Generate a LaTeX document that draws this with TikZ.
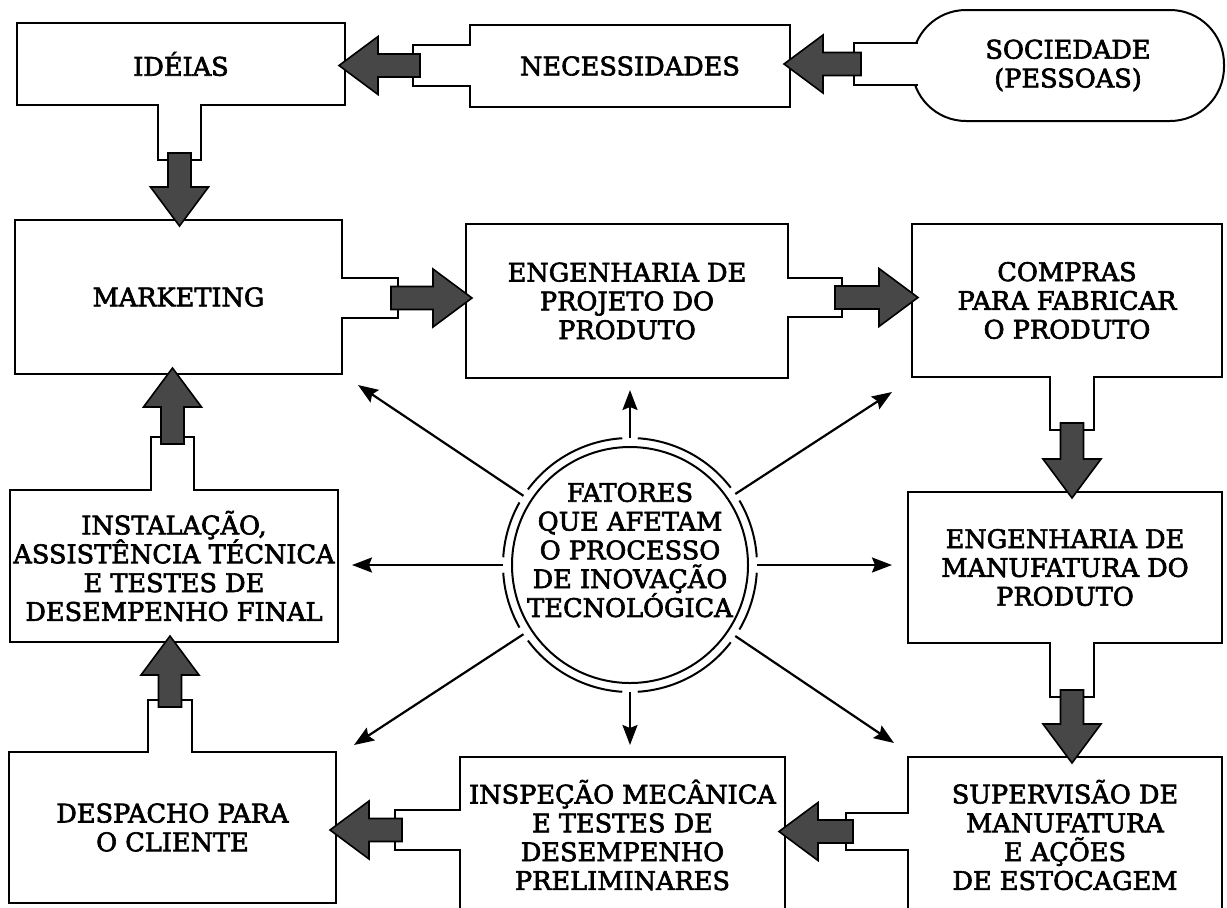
\documentclass[tikz,border=0pt]{standalone}
\usepackage{fontspec}
\setmainfont{DejaVu Serif}[FakeBold=2.5]
\usetikzlibrary{calc,arrows.meta}

% thick shaded arrow from a tab to the next box
\newcommand{\blockarrow}[2]{%
  \coordinate (ba-s) at (#1);
  \coordinate (ba-e) at (#2);
  \coordinate (ba-a) at ($(ba-s)!-3.5pt!(ba-e)$);
  \coordinate (ba-b) at ($(ba-e)!-3.5pt!(ba-s)$);
  \coordinate (ba-c) at ($(ba-b)!19.5pt!(ba-a)$);
  \filldraw[bigarrow] ($(ba-a)!5.75pt!90:(ba-b)$) -- ($(ba-c)!5.75pt!-90:(ba-a)$)
    -- ($(ba-c)!14.5pt!-90:(ba-a)$) -- (ba-b) -- ($(ba-c)!14.5pt!90:(ba-a)$)
    -- ($(ba-c)!5.75pt!90:(ba-a)$) -- ($(ba-a)!5.75pt!-90:(ba-b)$) -- cycle;}

\begin{document}
\begin{tikzpicture}[x=0.5pt, y=-0.5pt,
    every node/.style={font=\fontsize{12.8}{14.4}\selectfont},
    box/.style={draw, line width=1pt, fill=white, align=center, inner sep=0pt},
    tab/.style={fill=white, inner sep=0pt, outer sep=0pt},
    tabline/.style={line width=1pt},
    bigarrow/.style={fill=black!72, draw=black, line width=0.8pt, line join=miter},
    ring/.style={line width=1pt},
    spoke/.style={line width=1.1pt, -{Stealth[length=10pt,width=7.5pt,inset=1.5pt]}}]
    \useasboundingbox (0,0) rectangle (1227,907);
    \clip (0,0) rectangle (1227,907);
    \fill[white] (0,0) rectangle (1227,907);

    % Boxes
    \node[box, minimum width=164pt, minimum height=41pt] (ideias) at (181,64) {IDÉIAS};
    \node[box, minimum width=160pt, minimum height=41pt] (nec) at (630,66) {NECESSIDADES};
    \node[box, rounded corners=27pt, minimum width=156pt, minimum height=55.5pt] (soc) at (1068,65.5) {SOCIEDADE\\(PESSOAS)};
    \node[box, minimum width=163.5pt, minimum height=77pt] (mkt) at (178.5,297) {MARKETING};
    \node[box, minimum width=161pt, minimum height=77pt] (proj) at (627,301) {ENGENHARIA DE\\PROJETO DO\\PRODUTO};
    \node[box, minimum width=155pt, minimum height=76.5pt] (comp) at (1067,300.5) {COMPRAS\\PARA FABRICAR\\O PRODUTO};
    \node[box, minimum width=164pt, minimum height=76pt] (inst) at (174,566) {INSTALAÇÃO,\\ASSISTÊNCIA TÉCNICA\\E TESTES DE\\DESEMPENHO FINAL};
    \node[box, minimum width=157pt, minimum height=75.5pt] (man) at (1065,567.5) {ENGENHARIA DE\\MANUFATURA DO\\PRODUTO};
    \node[box, minimum width=163.5pt, minimum height=75.5pt] (desp) at (172.5,827.5) {DESPACHO PARA\\O CLIENTE};
    \node[box, minimum width=162.5pt, minimum height=78pt] (insp) at (622.5,835) {INSPEÇÃO MECÂNICA\\E TESTES DE\\DESEMPENHO\\PRELIMINARES};
    \node[box, minimum width=157pt, minimum height=78pt] (sup) at (1065,835) {SUPERVISÃO DE\\MANUFATURA\\E AÇÕES\\DE ESTOCAGEM};

    % Tabs
    \node[tab, minimum width=21.5pt, minimum height=28pt] (ideias-tab) at (179.5,132) {};
    \draw[tabline] (ideias-tab.north west) |- (ideias-tab.south east) -- (ideias-tab.north east);
    \node[tab, minimum width=29pt, minimum height=20.5pt] (nec-tab) at (442,65.5) {};
    \draw[tabline] (nec-tab.north east) -| (nec-tab.south west) -- (nec-tab.south east);
    \node[tab, minimum width=32pt, minimum height=21pt] (soc-tab) at (886,64) {};
    \draw[tabline] (soc-tab.north east) -| (soc-tab.south west) -- (soc-tab.south east);
    \node[tab, minimum width=28.5pt, minimum height=20pt] (mkt-tab) at (369.5,298) {};
    \draw[tabline] (mkt-tab.north west) -| (mkt-tab.south east) -- (mkt-tab.south west);
    \node[tab, minimum width=27.5pt, minimum height=19.5pt] (proj-tab) at (814.5,297.5) {};
    \draw[tabline] (proj-tab.north west) -| (proj-tab.south east) -- (proj-tab.south west);
    \node[tab, minimum width=22pt, minimum height=27pt] (comp-tab) at (1072,403) {};
    \draw[tabline] (comp-tab.north west) |- (comp-tab.south east) -- (comp-tab.north east);
    \node[tab, minimum width=22pt, minimum height=27.5pt] (man-tab) at (1072,669.5) {};
    \draw[tabline] (man-tab.north west) |- (man-tab.south east) -- (man-tab.north east);
    \node[tab, minimum width=31.5pt, minimum height=18.5pt] (sup-tab) at (877.5,831.5) {};
    \draw[tabline] (sup-tab.north east) -| (sup-tab.south west) -- (sup-tab.south east);
    \node[tab, minimum width=33pt, minimum height=20pt] (insp-tab) at (428,830) {};
    \draw[tabline] (insp-tab.north east) -| (insp-tab.south west) -- (insp-tab.south east);
    \node[tab, minimum width=22pt, minimum height=26.5pt] (desp-tab) at (170,726.5) {};
    \draw[tabline] (desp-tab.south west) |- (desp-tab.north east) -- (desp-tab.south east);
    \node[tab, minimum width=21.5pt, minimum height=27pt] (inst-tab) at (172.5,464) {};
    \draw[tabline] (inst-tab.south west) |- (inst-tab.north east) -- (inst-tab.south east);

    % Block arrows
    \blockarrow{soc-tab.west}{soc-tab.west -| nec.east}
    \blockarrow{nec-tab.west}{nec-tab.west -| ideias.east}
    \blockarrow{ideias-tab.south}{ideias-tab.south |- mkt.north}
    \blockarrow{mkt-tab.east}{mkt-tab.east -| proj.west}
    \blockarrow{proj-tab.east}{proj-tab.east -| comp.west}
    \blockarrow{comp-tab.south}{comp-tab.south |- man.north}
    \blockarrow{man-tab.south}{man-tab.south |- sup.north}
    \blockarrow{sup-tab.west}{sup-tab.west -| insp.east}
    \blockarrow{insp-tab.west}{insp-tab.west -| desp.east}
    \blockarrow{desp-tab.north}{desp-tab.north |- inst.south}
    \blockarrow{inst-tab.north}{inst-tab.north |- mkt.south}

    % Central circle
    \node[circle, draw, line width=1pt, minimum size=118pt, inner sep=0pt, outer sep=4.5pt] (fat) at (630,565) {};
    \node[align=center, inner sep=0pt] (fat-text) at (630,550) {FATORES\\QUE AFETAM\\O PROCESSO\\DE INOVAÇÃO\\TECNOLÓGICA};
    \foreach \a/\b in {0/34, 34/90, 90/147, 147/180, 180/213, 213/270, 270/326, 326/360}
        \draw[ring] ([shift={(\a+3.5:63.5pt)}]fat.center) arc[start angle=\a+3.5, end angle=\b-3.5, radius=63.5pt];

    % Spokes
    \coordinate (sp-n) at (630,390);
    \coordinate (sp-ne) at (892,392);
    \coordinate (sp-e) at (892,565);
    \coordinate (sp-se) at (894,743);
    \coordinate (sp-s) at (630,745);
    \coordinate (sp-sw) at (354,745);
    \coordinate (sp-w) at (352,565);
    \coordinate (sp-nw) at (358,385);
    \draw[spoke] (fat.90) -- (sp-n);
    \draw[spoke] (fat.34) -- (sp-ne);
    \draw[spoke] (fat.0) -- (sp-e);
    \draw[spoke] (fat.326) -- (sp-se);
    \draw[spoke] (fat.270) -- (sp-s);
    \draw[spoke] (fat.213) -- (sp-sw);
    \draw[spoke] (fat.180) -- (sp-w);
    \draw[spoke] (fat.147) -- (sp-nw);
\end{tikzpicture}
\end{document}
